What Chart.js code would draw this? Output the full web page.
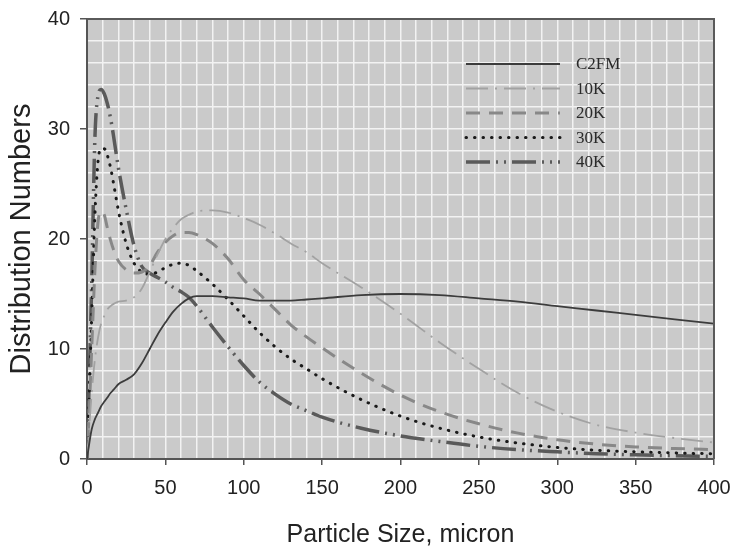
<!DOCTYPE html>
<html>
<head>
<meta charset="utf-8">
<script src="https://cdn.jsdelivr.net/npm/chart.js@4.4.0/dist/chart.umd.min.js"></script>
<style>
	body { margin: 0; background: #fff; }
</style>
</head>
<body>
<canvas id="sizeChart" width="731" height="550"></canvas>
<script>
	// particle size (micron) and distribution numbers
	var sizes = [0, 1, 3, 5, 7, 9, 11, 13, 15, 17, 20, 25, 30, 35, 40, 45, 50, 55, 60, 65,
		70, 80, 90, 100, 110, 120, 130, 140, 150, 175, 200, 225, 250, 275, 300, 325, 350, 375, 400];
	var c2fm = [0, 1.0, 2.7, 3.6, 4.2, 4.8, 5.2, 5.6, 6.0, 6.3, 6.8, 7.2, 7.7, 8.7, 10.0, 11.3, 12.4, 13.4, 14.1, 14.6,
		14.8, 14.8, 14.7, 14.6, 14.4, 14.4, 14.4, 14.5, 14.6, 14.9, 15.0, 14.9, 14.6, 14.3, 13.9, 13.5, 13.1, 12.7, 12.3];
	var k10 = [0, 2.0, 6.0, 9.0, 11.0, 12.3, 13.0, 13.6, 13.9, 14.1, 14.3, 14.4, 14.7, 15.5, 17.0, 18.6, 20.0, 21.0, 21.8, 22.2,
		22.5, 22.6, 22.4, 21.9, 21.3, 20.5, 19.6, 18.8, 17.8, 15.6, 13.2, 10.6, 8.2, 6.0, 4.3, 3.1, 2.4, 1.9, 1.5];
	var k20 = [0, 3.0, 10.0, 17.0, 21.5, 22.5, 22.2, 21.0, 19.9, 19.0, 18.0, 17.2, 16.9, 17.0, 17.6, 18.8, 19.7, 20.3, 20.6, 20.6,
		20.4, 19.6, 18.2, 16.3, 15.0, 13.6, 12.2, 11.1, 10.1, 7.8, 5.8, 4.3, 3.2, 2.35, 1.75, 1.35, 1.1, 0.95, 0.85];
	var k30 = [0, 4.0, 13.0, 22.0, 27.0, 28.2, 28.2, 27.6, 26.5, 25.0, 22.6, 19.6, 17.8, 17.0, 16.8, 17.0, 17.4, 17.7, 17.8, 17.6,
		17.1, 15.9, 14.5, 13.0, 11.5, 10.2, 9.1, 8.2, 7.3, 5.4, 3.9, 2.8, 2.0, 1.45, 1.05, 0.8, 0.65, 0.55, 0.47];
	var k40 = [0, 5.0, 16.0, 29.0, 33.0, 33.6, 33.2, 32.3, 31.0, 29.3, 26.5, 22.7, 19.4, 17.5, 16.9, 16.5, 16.1, 15.6, 15.2, 14.7,
		13.9, 12.0, 10.2, 8.5, 7.0, 5.9, 5.0, 4.4, 3.8, 2.8, 2.1, 1.6, 1.15, 0.85, 0.65, 0.48, 0.38, 0.3, 0.24];
	var names = ['C2FM', '10K', '20K', '30K', '40K'];
	var xTickLabels = [0, 50, 100, 150, 200, 250, 300, 350, 400];
	var yTickLabels = [0, 10, 20, 30, 40];

	var sans = "'Liberation Sans', Arial, sans-serif";

	function toPoints(vals) {
		var pts = [];
		for (var i = 0; i < sizes.length; i++) {
			pts.push({x: sizes[i], y: vals[i]});
		}
		return pts;
	}

	// grey plot area plus the thin frame on top and right
	var plotFrame = {
		id: 'plotFrame',
		beforeDraw: function(chart) {
			var a = chart.chartArea, c = chart.ctx;
			c.save();
			c.fillStyle = '#cacaca';
			c.fillRect(a.left, a.top, a.right - a.left, a.bottom - a.top);
			c.restore();
		},
		afterDraw: function(chart) {
			var a = chart.chartArea, c = chart.ctx;
			c.save();
			c.strokeStyle = '#5a5a5a';
			c.lineWidth = 2;
			c.beginPath();
			c.moveTo(a.left, a.top);
			c.lineTo(a.right, a.top);
			c.lineTo(a.right, a.bottom);
			c.stroke();
			c.restore();
		}
	};

	// legend sits inside the plot, upper right
	var insideLegend = {
		id: 'insideLegend',
		afterDraw: function(chart) {
			var a = chart.chartArea, c = chart.ctx;
			var x0 = a.left + 379, x1 = a.left + 473, tx = a.left + 489;
			var y = a.top + 45, step = 24.5;
			c.save();
			chart.data.datasets.forEach(function(ds, i) {
				var yy = y + i * step;
				c.strokeStyle = ds.borderColor;
				c.lineWidth = ds.borderWidth;
				c.lineCap = ds.borderCapStyle || 'butt';
				c.setLineDash(ds.borderDash || []);
				c.beginPath();
				c.moveTo(x0, yy);
				c.lineTo(x1, yy);
				c.stroke();
				c.setLineDash([]);
				c.fillStyle = '#2a2a2a';
				c.font = "17px 'Liberation Serif', 'Times New Roman', serif";
				c.textBaseline = 'middle';
				c.fillText(ds.label, tx, yy + 1);
			});
			c.restore();
		}
	};

	var ctx = document.getElementById('sizeChart');
	new Chart(ctx, {
		type: 'line',
		data: {
			datasets: [
				{
					label: names[0],
					data: toPoints(c2fm),
					borderColor: '#3c3c3c',
					borderWidth: 1.8
				},
				{
					label: names[1],
					data: toPoints(k10),
					borderColor: '#a2a2a2',
					borderWidth: 1.8,
					borderDash: [22, 7, 2, 7]
				},
				{
					label: names[2],
					data: toPoints(k20),
					borderColor: '#888888',
					borderWidth: 3,
					borderDash: [14, 9]
				},
				{
					label: names[3],
					data: toPoints(k30),
					borderColor: '#1a1a1a',
					borderWidth: 3,
					borderCapStyle: 'round',
					borderDash: [0.5, 8]
				},
				{
					label: names[4],
					data: toPoints(k40),
					borderColor: '#5a5a5a',
					borderWidth: 3.5,
					borderDash: [24, 6, 2, 6, 2, 6]
				}
			]
		},
		options: {
			responsive: false,
			animation: false,
			layout: { padding: { top: 19, right: 17, left: 0, bottom: 0 } },
			elements: {
				point: { radius: 0 },
				line: { cubicInterpolationMode: 'monotone', fill: false }
			},
			plugins: {
				legend: { display: false },
				tooltip: { enabled: false }
			},
			scales: {
				x: {
					type: 'linear',
					min: 0,
					max: 400,
					ticks: {
						stepSize: 10,
						autoSkip: false,
						maxRotation: 0,
						padding: 11,
						color: '#222',
						font: { family: sans, size: 20 },
						callback: function(v) { return xTickLabels.indexOf(v) >= 0 ? v : ''; }
					},
					grid: {
						color: '#f2f2f2',
						lineWidth: 1.5,
						tickLength: 6,
						tickWidth: 1.5,
						tickColor: function(c) { return c.tick && xTickLabels.indexOf(c.tick.value) >= 0 ? '#555' : 'rgba(0,0,0,0)'; }
					},
					border: { color: '#555', width: 2 },
					title: {
						display: true,
						text: 'Particle Size, micron',
						color: '#222',
						font: { family: sans, size: 25 },
						padding: { top: 0, bottom: 0 }
					},
					afterFit: function(s) {
						s.height = 91;
						s.paddingLeft = 0;
						s.paddingRight = 0;
					}
				},
				y: {
					min: 0,
					max: 40,
					ticks: {
						stepSize: 2,
						autoSkip: false,
						padding: 10,
						color: '#222',
						font: { family: sans, size: 20 },
						callback: function(v) { return yTickLabels.indexOf(v) >= 0 ? v : ''; }
					},
					grid: {
						color: '#f2f2f2',
						lineWidth: 1.5,
						tickLength: 7,
						tickWidth: 1.5,
						tickColor: function(c) { return c.tick && yTickLabels.indexOf(c.tick.value) >= 0 ? '#555' : 'rgba(0,0,0,0)'; }
					},
					border: { color: '#555', width: 2 },
					title: {
						display: true,
						text: 'Distribution Numbers',
						color: '#222',
						font: { family: sans, size: 29 },
						padding: { top: 5, bottom: 0 }
					},
					afterFit: function(s) {
						s.width = 87;
						s.paddingTop = 0;
						s.paddingBottom = 0;
					}
				}
			}
		},
		plugins: [plotFrame, insideLegend]
	});
</script>
</body>
</html>
